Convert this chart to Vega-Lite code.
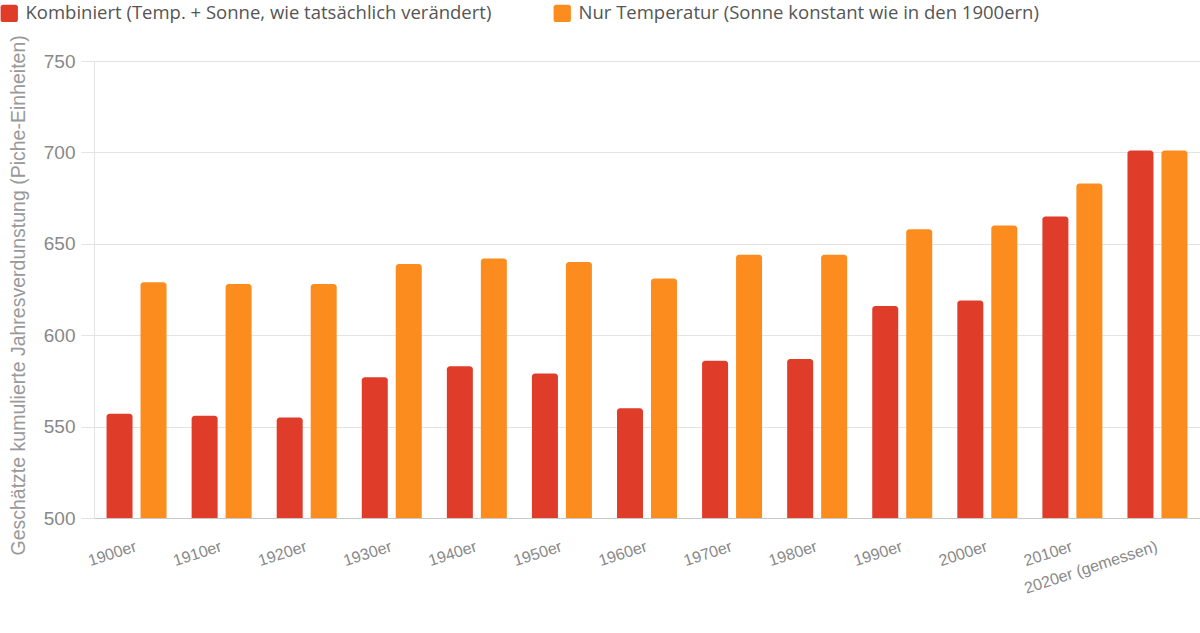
{
  "$schema": "https://vega.github.io/schema/vega-lite/v6.json",
  "autosize": {"type": "none"},
  "padding": {"left": 94, "top": 61, "right": 0, "bottom": 115},
  "width": 1106,
  "height": 457,
  "background": "white",
  "config": {"view": {"stroke": null}},
  "data": {
    "values": [
      {"dekade": "1900er", "serie": "Kombiniert (Temp. + Sonne, wie tatsächlich verändert)", "wert": 557},
      {"dekade": "1900er", "serie": "Nur Temperatur (Sonne konstant wie in den 1900ern)", "wert": 629},
      {"dekade": "1910er", "serie": "Kombiniert (Temp. + Sonne, wie tatsächlich verändert)", "wert": 556},
      {"dekade": "1910er", "serie": "Nur Temperatur (Sonne konstant wie in den 1900ern)", "wert": 628},
      {"dekade": "1920er", "serie": "Kombiniert (Temp. + Sonne, wie tatsächlich verändert)", "wert": 555},
      {"dekade": "1920er", "serie": "Nur Temperatur (Sonne konstant wie in den 1900ern)", "wert": 628},
      {"dekade": "1930er", "serie": "Kombiniert (Temp. + Sonne, wie tatsächlich verändert)", "wert": 577},
      {"dekade": "1930er", "serie": "Nur Temperatur (Sonne konstant wie in den 1900ern)", "wert": 639},
      {"dekade": "1940er", "serie": "Kombiniert (Temp. + Sonne, wie tatsächlich verändert)", "wert": 583},
      {"dekade": "1940er", "serie": "Nur Temperatur (Sonne konstant wie in den 1900ern)", "wert": 642},
      {"dekade": "1950er", "serie": "Kombiniert (Temp. + Sonne, wie tatsächlich verändert)", "wert": 579},
      {"dekade": "1950er", "serie": "Nur Temperatur (Sonne konstant wie in den 1900ern)", "wert": 640},
      {"dekade": "1960er", "serie": "Kombiniert (Temp. + Sonne, wie tatsächlich verändert)", "wert": 560},
      {"dekade": "1960er", "serie": "Nur Temperatur (Sonne konstant wie in den 1900ern)", "wert": 631},
      {"dekade": "1970er", "serie": "Kombiniert (Temp. + Sonne, wie tatsächlich verändert)", "wert": 586},
      {"dekade": "1970er", "serie": "Nur Temperatur (Sonne konstant wie in den 1900ern)", "wert": 644},
      {"dekade": "1980er", "serie": "Kombiniert (Temp. + Sonne, wie tatsächlich verändert)", "wert": 587},
      {"dekade": "1980er", "serie": "Nur Temperatur (Sonne konstant wie in den 1900ern)", "wert": 644},
      {"dekade": "1990er", "serie": "Kombiniert (Temp. + Sonne, wie tatsächlich verändert)", "wert": 616},
      {"dekade": "1990er", "serie": "Nur Temperatur (Sonne konstant wie in den 1900ern)", "wert": 658},
      {"dekade": "2000er", "serie": "Kombiniert (Temp. + Sonne, wie tatsächlich verändert)", "wert": 619},
      {"dekade": "2000er", "serie": "Nur Temperatur (Sonne konstant wie in den 1900ern)", "wert": 660},
      {"dekade": "2010er", "serie": "Kombiniert (Temp. + Sonne, wie tatsächlich verändert)", "wert": 665},
      {"dekade": "2010er", "serie": "Nur Temperatur (Sonne konstant wie in den 1900ern)", "wert": 683},
      {"dekade": "2020er (gemessen)", "serie": "Kombiniert (Temp. + Sonne, wie tatsächlich verändert)", "wert": 701},
      {"dekade": "2020er (gemessen)", "serie": "Nur Temperatur (Sonne konstant wie in den 1900ern)", "wert": 701}
    ]
  },
  "mark": {"type": "bar", "cornerRadiusTopLeft": 3, "cornerRadiusTopRight": 3},
  "encoding": {
    "x": {
      "field": "dekade",
      "type": "nominal",
      "sort": null,
      "scale": {"paddingInner": 0.295, "paddingOuter": 0.1475},
      "axis": {
        "title": null,
        "labelAngle": -18,
        "labelAlign": "right",
        "labelBaseline": "top",
        "labelFont": "Liberation Sans",
        "labelFontSize": 16,
        "labelColor": "#888888",
        "labelPadding": 20,
        "labelOffset": -3,
        "ticks": false,
        "tickSize": 0,
        "domainColor": "#c8c8c8",
        "domainWidth": 1,
        "grid": false,
        "labelOverlap": false
      }
    },
    "xOffset": {
      "field": "serie",
      "type": "nominal",
      "sort": null,
      "scale": {"paddingInner": 0.235, "paddingOuter": 0}
    },
    "y": {
      "field": "wert",
      "type": "quantitative",
      "scale": {"domain": [500, 750], "nice": false, "zero": false},
      "axis": {
        "title": "Geschätzte kumulierte Jahresverdunstung (Piche-Einheiten)",
        "titleFont": "Liberation Sans",
        "titleFontSize": 19.5,
        "titleFontWeight": "normal",
        "titleColor": "#999999",
        "titleAngle": -90,
        "titleAlign": "left",
        "titleBaseline": "bottom",
        "titleX": -66,
        "titleY": 494,
        "values": [500, 550, 600, 650, 700, 750],
        "labelFont": "Liberation Sans",
        "labelFontSize": 19,
        "labelColor": "#888888",
        "labelPadding": 6,
        "tickSize": 13,
        "tickColor": "#e3e3e3",
        "domainColor": "#e3e3e3",
        "gridColor": "#e3e3e3",
        "grid": true
      }
    },
    "y2": {"datum": 500},
    "color": {
      "field": "serie",
      "type": "nominal",
      "sort": null,
      "scale": {"range": ["#e03c2a", "#fd8c1e"]},
      "legend": {
        "title": null,
        "orient": "none",
        "direction": "horizontal",
        "legendX": -94,
        "legendY": -57,
        "symbolType": "M -0.7,-1 L 0.7,-1 Q 1,-1 1,-0.7 L 1,0.7 Q 1,1 0.7,1 L -0.7,1 Q -1,1 -1,0.7 L -1,-0.7 Q -1,-1 -0.7,-1 Z",
        "symbolSize": 300,
        "symbolStrokeWidth": 0,
        "symbolOpacity": 1,
        "labelFont": "Open Sans",
        "labelFontSize": 18.5,
        "labelColor": "#555555",
        "labelLimit": 0,
        "labelOffset": 7,
        "columnPadding": 61
      }
    }
  }
}
